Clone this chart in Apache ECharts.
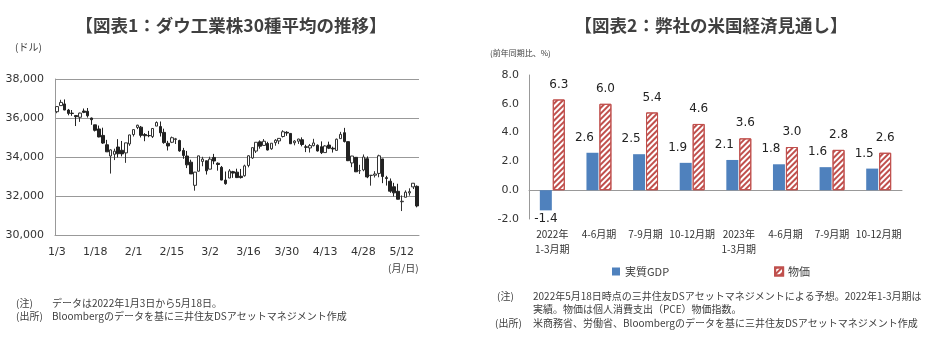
<!DOCTYPE html>
<html>
<head>
<meta charset="utf-8">
<script src="https://cdn.jsdelivr.net/npm/echarts@6/dist/echarts.min.js"></script>
<style>
  html, body { margin: 0; padding: 0; background: #fff; }
  #main { width: 933px; height: 352px; }
</style>
</head>
<body>
<div id="main"></div>
<script>
// 図表1: ダウ工業株30種平均 (2022/1/3 - 5/18), [open, close, low, high]
const dates = [
  '1/3','1/4','1/5','1/6','1/7','1/10','1/11','1/12','1/13','1/14',
  '1/18','1/19','1/20','1/21','1/24','1/25','1/26','1/27','1/28','1/31',
  '2/1','2/2','2/3','2/4','2/7','2/8','2/9','2/10','2/11','2/14',
  '2/15','2/16','2/17','2/18','2/22','2/23','2/24','2/25','2/28','3/1',
  '3/2','3/3','3/4','3/7','3/8','3/9','3/10','3/11','3/14','3/15',
  '3/16','3/17','3/18','3/21','3/22','3/23','3/24','3/25','3/28','3/29',
  '3/30','3/31','4/1','4/4','4/5','4/6','4/7','4/8','4/11','4/12',
  '4/13','4/14','4/18','4/19','4/20','4/21','4/22','4/25','4/26','4/27',
  '4/28','4/29','5/2','5/3','5/4','5/5','5/6','5/9','5/10','5/11',
  '5/12','5/13','5/16','5/17','5/18'
];
const dowOHLC = [
  [36322,36585,36246,36595],[36636,36800,36636,36934],[36722,36408,36400,36953],[36409,36236,36138,36464],[36249,36232,36111,36410],
  [36123,36068,35588,36123],[36037,36252,35800,36275],[36357,36290,36249,36486],[36346,36114,36022,36513],[36000,35912,35650,36020],
  [35650,35369,35310,35650],[35437,35029,35010,35613],[35107,34715,34673,35503],[34628,34265,34261,34879],[34050,34365,33150,34395],
  [34138,34297,33842,34426],[34512,34168,33979,34916],[34345,34160,34031,34823],[34210,34725,33700,34729],[34670,35132,34574,35144],
  [35152,35405,35052,35406],[35517,35630,35429,35654],[35532,35111,35002,35592],[35154,35089,34810,35225],[35103,35091,35014,35339],
  [35045,35463,34972,35484],[35585,35768,35585,35825],[35561,35241,35050,35821],[35262,34738,34680,35452],[34704,34566,34334,34830],
  [34756,34989,34713,35048],[34898,34935,34666,34979],[34844,34312,34270,34885],[34336,34079,33908,34468],[34050,33597,33432,34311],
  [33734,33132,33130,33861],[32548,33224,32272,33237],[33271,34059,33252,34063],[33773,33893,33526,34010],[33808,33294,33100,33808],
  [33376,33891,33376,34015],[33976,33795,33629,34160],[33680,33615,33300,33725],[33470,32818,32805,33540],[32816,32633,32578,33256],
  [32922,33286,32922,33380],[33250,33174,32930,33290],[33224,32944,32920,33400],[33014,32945,32897,33388],[33037,33544,32992,33605],
  [33567,34063,33471,34090],[33951,34481,33902,34483],[34304,34755,34206,34755],[34777,34553,34428,34853],[34594,34808,34594,34920],
  [34695,34358,34338,34780],[34422,34707,34370,34710],[34734,34861,34578,34917],[34823,34955,34661,34962],[35051,35294,35000,35372],
  [35267,35229,35085,35322],[35209,34678,34674,35230],[34730,34818,34600,34866],[34809,34922,34670,34936],[34886,34641,34546,35008],
  [34521,34497,34251,34627],[34463,34584,34229,34669],[34581,34721,34544,34932],[34604,34309,34281,34646],[34528,34221,34152,34800],
  [34226,34565,34226,34602],[34613,34451,34405,34787],[34450,34412,34228,34531],[34338,34912,34338,34945],[34942,35161,34942,35289],
  [35246,34793,34744,35493],[34788,33811,33791,34788],[33695,34050,33480,34055],[33983,33241,33228,34000],[33298,33302,33130,33600],
  [33336,34000,33269,34130],[33910,32977,32914,34030],[33056,33062,32530,33075],[33067,33129,32950,33272],[33158,34061,32960,34117],
  [33903,32998,32659,33903],[32941,32899,32534,33034],[32758,32246,32165,32900],[32474,32161,31979,32675],[32242,31834,31826,32628],
  [31705,31730,31228,32029],[31935,32197,31935,32287],[32159,32223,32017,32395],[32467,32655,32357,32664],[32496,31490,31419,32541]
];

// 図表2: 弊社の米国経済見通し (前年同期比、%)
const quarters = ['2022年\n1-3月期','4-6月期','7-9月期','10-12月期','2023年\n1-3月期','4-6月期','7-9月期','10-12月期'];
const gdp = [-1.4, 2.6, 2.5, 1.9, 2.1, 1.8, 1.6, 1.5];
const prices = [6.3, 6.0, 5.4, 4.6, 3.6, 3.0, 2.8, 2.6];

const NUM_FONT = 'DejaVu Sans, Noto Sans CJK JP';
const JP_FONT = 'Noto Sans CJK JP';
const TXT = '#404040';

const chart = echarts.init(document.getElementById('main'), null, { renderer: 'canvas' });

const noteStyle = { fill: TXT, font: '10px "Noto Sans CJK JP"' };
function txt(x, y, text, extra) {
  return { type: 'text', left: x, top: y, style: Object.assign({ text: text }, noteStyle, extra || {}) };
}

chart.setOption({
  backgroundColor: '#fff',
  animation: false,
  title: [
    { text: '【図表1：ダウ工業株30種平均の推移】', left: 226, top: 12, textAlign: 'center',
      textStyle: { fontFamily: JP_FONT, fontSize: 17.5, fontWeight: 'bold', color: TXT } },
    { text: '【図表2：弊社の米国経済見通し】', left: 706, top: 12, textAlign: 'center',
      textStyle: { fontFamily: JP_FONT, fontSize: 17.5, fontWeight: 'bold', color: TXT } }
  ],
  legend: {
    left: 607, top: 261, itemWidth: 8, itemHeight: 8, itemGap: 105,
    textStyle: { fontFamily: JP_FONT, fontSize: 11, color: TXT },
    data: [{ name: '実質GDP', icon: 'rect' }, { name: '物価', icon: 'rect' }]
  },
  grid: [
    { left: 55, right: 514, top: 79, bottom: 117 },
    { left: 529, right: 31, top: 75, bottom: 133 }
  ],
  xAxis: [
    {
      type: 'category', gridIndex: 0, data: dates, boundaryGap: true,
      axisLine: { lineStyle: { color: '#999' } },
      axisTick: { interval: 4, length: 4, lineStyle: { color: '#999' } },
      axisLabel: { interval: 9, margin: 12, fontFamily: NUM_FONT, fontSize: 11, color: '#333' },
      splitLine: { show: false }
    },
    {
      type: 'category', gridIndex: 1, data: quarters,
      axisLine: { onZero: true, lineStyle: { color: '#999' } },
      axisTick: { length: 5, lineStyle: { color: '#999' } },
      axisLabel: { interval: 0, margin: 8, lineHeight: 15, fontFamily: JP_FONT, fontSize: 10, color: '#333' }
    }
  ],
  yAxis: [
    {
      type: 'value', gridIndex: 0, min: 30000, max: 38000, interval: 2000,
      axisLine: { show: true, lineStyle: { color: '#999' } },
      axisTick: { show: false },
      axisLabel: { margin: 11, fontFamily: NUM_FONT, fontSize: 11, color: '#333' },
      splitLine: { lineStyle: { color: '#999' } }
    },
    {
      type: 'value', gridIndex: 1, min: -2, max: 8, interval: 2,
      axisLine: { show: true, lineStyle: { color: '#999' } },
      axisTick: { show: false },
      axisLabel: { margin: 10, fontFamily: NUM_FONT, fontSize: 11, color: '#333',
        formatter: v => v.toFixed(1) },
      splitLine: { show: false }
    }
  ],
  series: [
    {
      type: 'candlestick', xAxisIndex: 0, yAxisIndex: 0, data: dowOHLC, barWidth: '80%',
      itemStyle: { color: '#fff', color0: '#222', borderColor: '#333', borderColor0: '#222', borderWidth: 1 }
    },
    {
      name: '実質GDP', type: 'bar', xAxisIndex: 1, yAxisIndex: 1, barWidth: 12, barGap: '8%',
      data: gdp.map(v => v < 0
        ? { value: v, label: { position: 'bottom', distance: 3, offset: [0, 0] } }
        : v),
      itemStyle: { color: '#4f81bd' },
      label: { show: true, position: 'top', distance: 9, offset: [-8, 0], fontFamily: NUM_FONT, fontSize: 12, color: '#222',
        formatter: p => p.value.toFixed(1) }
    },
    {
      name: '物価', type: 'bar', xAxisIndex: 1, yAxisIndex: 1, barWidth: 12, barGap: '8%',
      data: prices,
      itemStyle: {
        color: '#fff', borderColor: '#c0504d', borderWidth: 1,
        decal: { symbol: 'rect', symbolSize: 1, dashArrayX: [1, 0], dashArrayY: [1.5, 2], rotation: -Math.PI / 4, color: '#c0504d' }
      },
      label: { show: true, position: 'top', distance: 9, fontFamily: NUM_FONT, fontSize: 12, color: '#222',
        formatter: p => p.value.toFixed(1) }
    }
  ],
  graphic: [
    txt(15, 42, '(ドル)', { font: '10px "Noto Sans CJK JP"' }),
    txt(388, 263, '(月/日)', { font: '10px "Noto Sans CJK JP"' }),
    txt(16, 298, '(注)'),
    txt(52, 298, 'データは2022年1月3日から5月18日。'),
    txt(16, 311, '(出所)'),
    txt(52, 311, 'Bloombergのデータを基に三井住友DSアセットマネジメント作成'),
    txt(490, 49, '(前年同期比、%)', { font: '8px "Noto Sans CJK JP"' }),
    txt(497, 291, '(注)'),
    txt(533, 291, '2022年5月18日時点の三井住友DSアセットマネジメントによる予想。2022年1-3月期は'),
    txt(533, 304, '実績。物価は個人消費支出（PCE）物価指数。'),
    txt(495, 318, '(出所)'),
    txt(533, 318, '米商務省、労働省、Bloombergのデータを基に三井住友DSアセットマネジメント作成')
  ]
});
</script>
</body>
</html>
